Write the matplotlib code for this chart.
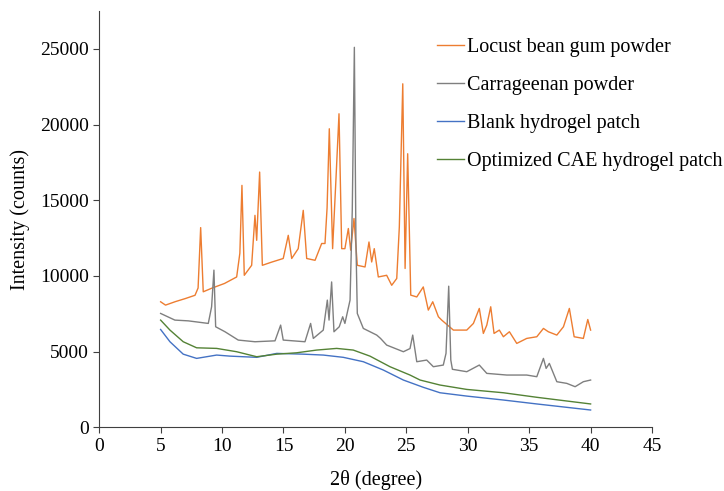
import matplotlib
matplotlib.use("Agg")
import matplotlib.pyplot as plt

# values (2theta in degree, intensity in counts)
lbg_x = [5.0, 5.4, 6.2, 7.0, 7.8, 8.05, 8.26, 8.47, 9.2, 10.2, 11.19, 11.45, 11.62, 11.81,
         12.41, 12.68, 12.82, 13.06, 13.28, 14.0, 14.98, 15.39, 15.67, 16.2, 16.61, 16.89,
         17.57, 18.11, 18.38, 18.55, 18.73, 19.0, 19.28, 19.52, 19.74, 20.0, 20.28, 20.47,
         20.74, 21.01, 21.64, 21.96, 22.18, 22.39, 22.72, 23.4, 23.81, 24.22, 24.43, 24.71,
         24.9, 25.11, 25.36, 25.85, 26.38, 26.79, 27.15, 27.61, 27.88, 28.83, 29.92, 30.46,
         30.94, 31.27, 31.55, 31.87, 32.14, 32.57, 32.9, 33.39, 33.99, 34.8, 35.62, 36.16,
         36.56, 37.25, 37.79, 38.27, 38.66, 39.41, 39.77, 40.0]
lbg_y = [8290, 8070, 8300, 8500, 8720, 9200, 13190, 8950, 9200, 9500, 9930, 11500, 15980, 10040,
         10700, 14000, 12350, 16860, 10700, 10900, 11150, 12680, 11150, 11800, 14330, 11150,
         11030, 12140, 12140, 14500, 19720, 11800, 16530, 20710, 11800, 11800, 13130, 11700,
         13790, 10700, 10590, 12240, 10920, 11800, 9930, 10040, 9380, 9830, 13230, 22690,
         10490, 18070, 8730, 8610, 9270, 7740, 8290, 7300, 7080, 6420, 6420, 6860,
         7850, 6200, 6750, 7960, 6200, 6420, 5980, 6310, 5540, 5870, 5980, 6530,
         6310, 6090, 6640, 7850, 5980, 5870, 7120, 6420]

car_x = [5.0, 6.16, 7.25, 8.88, 9.15, 9.34, 9.48, 10.24, 11.32, 12.68, 14.31, 14.77, 14.98,
         16.75, 17.21, 17.43, 18.24, 18.57, 18.71, 18.92, 19.11, 19.54, 19.82, 20.0, 20.42,
         20.6, 20.77, 20.9, 21.01, 21.5, 22.59, 22.9, 23.4, 24.76, 25.3, 25.52, 25.85, 26.66,
         27.2, 28.01, 28.23, 28.45, 28.62, 28.75, 29.92, 30.94, 31.55, 33.18, 34.8, 35.62,
         36.16, 36.38, 36.64, 37.25, 38.06, 38.74, 39.41, 40.0]
car_y = [7520, 7080, 7030, 6860, 7960, 10380, 6640, 6310, 5760, 5650, 5710, 6750, 5760,
         5650, 6860, 5870, 6420, 8400, 7080, 9600, 6310, 6640, 7300, 6860, 8400,
         14330, 25100, 12140, 7520, 6530, 6090, 5870, 5430, 4990, 5200, 6090, 4330, 4440,
         4000, 4110, 4880, 9320, 4440, 3830, 3670, 4110, 3560, 3450, 3450, 3340,
         4550, 3890, 4220, 3010, 2900, 2680, 3010, 3120]

blank_x = [5.0, 5.76, 6.84, 7.93, 9.56, 10.64, 12.82, 14.45, 16.61, 18.24, 19.87, 21.5,
           23.13, 24.76, 26.38, 27.74, 29.92, 32.9, 35.62, 40.0]
blank_y = [6460, 5650, 4830, 4550, 4770, 4700, 4620, 4880, 4830, 4770, 4620, 4330,
           3780, 3120, 2640, 2280, 2060, 1800, 1540, 1140]

cae_x = [5.0, 5.76, 6.84, 7.93, 9.56, 11.19, 12.82, 14.45, 16.07, 17.7, 19.33, 20.68,
         22.04, 23.67, 25.3, 26.12, 27.74, 29.92, 32.9, 35.62, 40.0]
cae_y = [7080, 6420, 5650, 5250, 5210, 4990, 4660, 4830, 4920, 5100, 5210, 5100,
         4700, 4000, 3450, 3120, 2790, 2500, 2280, 1980, 1540]

labels = ["Locust bean gum powder", "Carrageenan powder",
          "Blank hydrogel patch", "Optimized CAE hydrogel patch"]
colors = ["#ED7D31", "#7F7F7F", "#4472C4", "#548235"]

plt.rcParams['font.family'] = ['Liberation Serif', 'DejaVu Serif']

fig = plt.figure(figsize=(7.24, 4.91), dpi=100)
ax = fig.add_axes([0.137, 0.1298, 0.9006 - 0.137, 0.9776 - 0.1298])

series = [(lbg_x, lbg_y), (car_x, car_y), (blank_x, blank_y), (cae_x, cae_y)]
for (xs, ys), lab, col in zip(series, labels, colors):
    ax.plot(xs, ys, color=col, lw=1.0, label=lab)

ax.set_xlim(0, 45)
ax.set_ylim(0, 27500)
ax.set_xticks(range(0, 46, 5))
ax.set_yticks(range(0, 25001, 5000))
ax.spines['top'].set_visible(False)
ax.spines['right'].set_visible(False)
for s in ['left', 'bottom']:
    ax.spines[s].set_color('#404040')
ax.tick_params(direction='out', length=4, color='#404040', labelsize=14)

ax.set_xlabel("2θ (degree)", fontsize=14.5, labelpad=11)
ax.set_ylabel("Intensity (counts)", fontsize=14.5, labelpad=7)

ax.legend(loc='upper left', bbox_to_anchor=(0.611, 0.936), frameon=False,
          fontsize=14.5, handlelength=1.35, handletextpad=0.15, labelspacing=0.94,
          borderpad=0, borderaxespad=0)

fig.savefig("out.png", dpi=100)
